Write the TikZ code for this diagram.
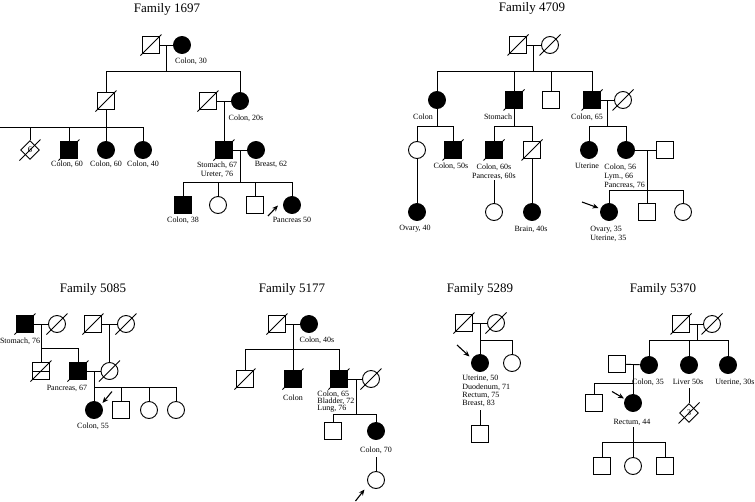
\documentclass[tikz,border=0pt]{standalone}
\usepackage{fontspec}
\setmainfont{Liberation Serif}
\usetikzlibrary{shapes.geometric,arrows.meta,calc}
\newcommand\deadmark[1]{\draw ($(#1.center)+(-10.5,10.5)$) -- ($(#1.center)+(10.5,-10.5)$);}
\begin{document}
\begin{tikzpicture}[x=1pt,y=-1pt,line width=0.9pt,
  male/.style={draw, rectangle, minimum size=16.5pt, inner sep=0pt},
  female/.style={draw, circle, minimum size=17pt, inner sep=0pt},
  aff/.style={fill=black},
  dia/.style={draw, diamond, minimum width=19pt, minimum height=19pt, inner sep=0pt},
  digit/.style={font=\fontsize{8.5}{9}\selectfont, inner sep=0pt, text=black},
  ttl/.style={font=\fontsize{13}{15}\selectfont},
  lab/.style={font=\fontsize{8}{9}\selectfont, inner sep=0pt},
  labc/.style={lab, align=center, anchor=north},
  labl/.style={lab, align=left, anchor=north west},
  arr/.style={-{Stealth[length=6pt,width=5pt]}, line width=1.1pt}]
\useasboundingbox[fill=white] (0,0) rectangle (755,501);

% ================= Family 1697
\node[ttl] (t1) at (167,9) {Family 1697};
\node[male] (a1) at (151,45) {};
\node[female,aff] (a2) at (182,45) {};
\node[lab] (la2) at (191,61) {Colon, 30};
\draw (a1) -- (a2);
\coordinate (ja1) at (166.5,45);
\coordinate (sa1) at (166.5,71);
\draw (ja1) -- (sa1);
\node[male] (a3) at (106,101) {};
\node[male] (a4) at (208,101) {};
\node[female,aff] (a5) at (240,101) {};
\node[lab] (la5) at (246,118) {Colon, 20s};
\draw (a3 |- sa1) -- (a5 |- sa1);
\draw (a3) -- (a3 |- sa1);
\draw (a5) -- (a5 |- sa1);
\draw (a4) -- (a5);
\coordinate (ja2) at (224,101);
\node[male,aff] (a6) at (224,150) {};
\draw (ja2) -- (a6);
\coordinate (sa2) at (106,127);
\coordinate (ea2) at (0,127);
\draw (a3) -- (sa2);
\node[dia] (a7) at (30,150) {};
\node[male,aff] (a8) at (69,150) {};
\node[female,aff] (a9) at (106,150) {};
\node[female,aff] (a10) at (143,150) {};
\draw (ea2) -- (a10 |- sa2);
\foreach \n in {a7,a8,a9,a10} \draw (\n) -- (\n |- sa2);
\node[lab] (la8) at (67,164) {Colon, 60};
\node[lab] (la9) at (106,164) {Colon, 60};
\node[lab] (la10) at (143,164) {Colon, 40};
\node[female,aff] (a11) at (256,150) {};
\draw (a6) -- (a11);
\node[labc] (la6) at (217,161) {Stomach, 67\\Ureter, 76};
\node[lab] (la11) at (271,164) {Breast, 62};
\coordinate (ja3) at (240,150);
\coordinate (sa3) at (240,182);
\draw (ja3) -- (sa3);
\node[male,aff] (a12) at (183,205) {};
\node[female] (a13) at (218,205) {};
\node[male] (a14) at (255,205) {};
\node[female,aff] (a15) at (292,205) {};
\draw (a12 |- sa3) -- (a15 |- sa3);
\foreach \n in {a12,a13,a14,a15} \draw (\n) -- (\n |- sa3);
\node[lab] (la12) at (183,220) {Colon, 38};
\node[lab] (la15) at (292,220) {Pancreas 50};
\coordinate (ar1a) at (268,216);
\coordinate (ar1b) at (278,205.5);
\draw[arr] (ar1a) -- (ar1b);
\foreach \n in {a1,a3,a4,a6,a7,a8} {\deadmark{\n}}
\node[digit] (n7) at (30,150) {6};

% ================= Family 4709
\node[ttl] (t2) at (532,8) {Family 4709};
\node[male] (q1) at (518,45) {};
\node[female] (q2) at (550,45) {};
\draw (q1) -- (q2);
\coordinate (jq1) at (533.5,45);
\coordinate (sq1) at (533.5,71);
\draw (jq1) -- (sq1);
\node[female,aff] (q3) at (437,100) {};
\node[male,aff] (q4) at (514,100) {};
\node[male] (q5) at (551,100) {};
\node[male,aff] (q6) at (592,100) {};
\node[female] (q7) at (623,100) {};
\draw (q3 |- sq1) -- (q6 |- sq1);
\foreach \n in {q3,q4,q5,q6} \draw (\n) -- (\n |- sq1);
\draw (q6) -- (q7);
\node[lab] (lq3) at (423,117) {Colon};
\node[lab] (lq4) at (498,117) {Stomach};
\node[lab] (lq6) at (587,117) {Colon, 65};
\coordinate (sq3) at (437,126);
\coordinate (sq4) at (514,126);
\coordinate (jq6) at (607.5,100);
\coordinate (sq6) at (607.5,126);
\draw (q3) -- (sq3);
\draw (q4) -- (sq4);
\draw (jq6) -- (sq6);
\node[female] (q8) at (417,150) {};
\node[male,aff] (q9) at (453,150) {};
\node[male,aff] (q10) at (494,150) {};
\node[male] (q11) at (532,150) {};
\node[female,aff] (q12) at (589,150) {};
\node[female,aff] (q13) at (626,150) {};
\node[male] (q14) at (665,150) {};
\draw (q8 |- sq3) -- (q9 |- sq3);
\draw (q10 |- sq4) -- (q11 |- sq4);
\draw (q12 |- sq6) -- (q13 |- sq6);
\foreach \n in {q8,q9} \draw (\n) -- (\n |- sq3);
\foreach \n in {q10,q11} \draw (\n) -- (\n |- sq4);
\foreach \n in {q12,q13} \draw (\n) -- (\n |- sq6);
\draw (q13) -- (q14);
\node[lab] (lq9) at (451,166) {Colon, 50s};
\node[labc] (lq10) at (494,163) {Colon, 60s\\Pancreas, 60s};
\node[lab] (lq12) at (587,166) {Uterine};
\node[labl] (lq13) at (604,163) {Colon, 56\\Lym., 66\\Pancreas, 76};
\coordinate (jq13) at (647,150);
\coordinate (sq13) at (647,190);
\draw (jq13) -- (sq13);
\node[female,aff] (q15) at (417,212) {};
\node[female] (q16) at (494,212) {};
\node[female,aff] (q17) at (532,212) {};
\node[female,aff] (q18) at (609,212) {};
\node[male] (q19) at (647,212) {};
\node[female] (q20) at (683,212) {};
\draw (q8) -- (q15);
\coordinate (bq10) at (494,180);
\draw (bq10) -- (q16);
\draw (q11) -- (q17);
\draw (q18 |- sq13) -- (q20 |- sq13);
\foreach \n in {q18,q19,q20} \draw (\n) -- (\n |- sq13);
\node[lab] (lq15) at (415,229) {Ovary, 40};
\node[lab] (lq17) at (531,229) {Brain, 40s};
\node[labl] (lq18) at (590,226) {Ovary, 35\\Uterine, 35};
\coordinate (ar2a) at (582,202);
\coordinate (ar2b) at (598.5,208);
\draw[arr] (ar2a) -- (ar2b);
\foreach \n in {q1,q2,q4,q6,q7,q9,q10,q11} {\deadmark{\n}}

% ================= Family 5085
\node[ttl] (t3) at (93,289) {Family 5085};
\node[male,aff] (r1) at (25,324) {};
\node[female] (r2) at (57,324) {};
\draw (r1) -- (r2);
\node[lab] (lr1) at (20,341) {Stomach, 76};
\node[male] (r3) at (93,324) {};
\node[female] (r4) at (126,324) {};
\draw (r3) -- (r4);
\coordinate (jr1) at (41,324);
\coordinate (sr1) at (41,348);
\node[male] (r5) at (41,371) {};
\node[male,aff] (r6) at (78,371) {};
\node[female] (r7) at (109.5,371) {};
\draw (jr1) -- (r5);
\draw (sr1) -- (r6 |- sr1);
\draw (r6) -- (r6 |- sr1);
\draw (r5.west) -- (r5.east);
\coordinate (jr3) at (109.5,324);
\draw (jr3) -- (r7);
\draw (r6) -- (r7);
\node[lab] (lr6) at (67,388) {Pancreas, 67};
\coordinate (jr6) at (94,371);
\coordinate (sr6) at (94,387);
\node[female,aff] (r8) at (94,410) {};
\node[male] (r9) at (121,410) {};
\node[female] (r10) at (149,410) {};
\node[female] (r11) at (176,410) {};
\draw (jr6) -- (r8);
\draw (sr6) -- (r11 |- sr6);
\foreach \n in {r9,r10,r11} \draw (\n) -- (\n |- sr6);
\node[lab] (lr8) at (93,426) {Colon, 55};
\coordinate (ar3a) at (112,391.5);
\coordinate (ar3b) at (102.5,403);
\draw[arr] (ar3a) -- (ar3b);
\foreach \n in {r1,r2,r3,r4,r5,r6,r7} {\deadmark{\n}}

% ================= Family 5177
\node[ttl] (t4) at (292,289) {Family 5177};
\node[male] (u1) at (277,324) {};
\node[female,aff] (u2) at (309,324) {};
\draw (u1) -- (u2);
\node[lab] (lu2) at (317,340) {Colon, 40s};
\coordinate (ju1) at (293,324);
\coordinate (su1) at (293,349);
\node[male] (u3) at (245,379) {};
\node[male,aff] (u4) at (293,379) {};
\node[male,aff] (u5) at (339,379) {};
\node[female] (u6) at (371,379) {};
\draw (ju1) -- (u4);
\draw (u3 |- su1) -- (u5 |- su1);
\foreach \n in {u3,u5} \draw (\n) -- (\n |- su1);
\draw (u5) -- (u6);
\node[lab] (lu4) at (293,398) {Colon};
\node[labl, font=\fontsize{8}{7}\selectfont] (lu5) at (317,390.5) {Colon, 65\\Bladder, 72\\Lung, 76};
\coordinate (ju5) at (356,379);
\coordinate (su5) at (356,414);
\draw (ju5) -- (su5);
\node[male] (u7) at (333,431) {};
\node[female,aff] (u8) at (376,431) {};
\draw (u7 |- su5) -- (u8 |- su5);
\foreach \n in {u7,u8} \draw (\n) -- (\n |- su5);
\node[lab] (lu8) at (376,450) {Colon, 70};
\node[female] (u9) at (376,480) {};
\coordinate (bu8) at (376,457);
\draw (bu8) -- (u9);
\coordinate (ar4a) at (355.5,501);
\coordinate (ar4b) at (364.5,489.5);
\draw[arr] (ar4a) -- (ar4b);
\foreach \n in {u1,u3,u4,u5,u6} {\deadmark{\n}}

% ================= Family 5289
\node[ttl] (t5) at (480,289) {Family 5289};
\node[male] (v1) at (464,323) {};
\node[female] (v2) at (496,323) {};
\draw (v1) -- (v2);
\coordinate (jv1) at (480,323);
\coordinate (sv1) at (480,340);
\node[female,aff] (v3) at (480,363) {};
\node[female] (v4) at (512,363) {};
\draw (jv1) -- (v3);
\draw (sv1) -- (v4 |- sv1);
\draw (v4) -- (v4 |- sv1);
\node[labl, font=\fontsize{8}{8.4}\selectfont] (lv3) at (462,375) {Uterine, 50\\Duodenum, 71\\Rectum, 75\\Breast, 83};
\node[male] (v5) at (480,434) {};
\coordinate (bv3) at (480,410);
\draw (bv3) -- (v5);
\coordinate (ar5a) at (457,345);
\coordinate (ar5b) at (469.5,356.5);
\draw[arr] (ar5a) -- (ar5b);
\foreach \n in {v1,v2} {\deadmark{\n}}

% ================= Family 5370
\node[ttl] (t6) at (663,289) {Family 5370};
\node[male] (w1) at (681,324) {};
\node[female] (w2) at (712,324) {};
\draw (w1) -- (w2);
\coordinate (jw1) at (697,324);
\coordinate (sw1) at (697,340);
\draw (jw1) -- (sw1);
\node[female,aff] (w3) at (649,365) {};
\node[female,aff] (w4) at (689,365) {};
\node[female,aff] (w5) at (728,365) {};
\draw (w3 |- sw1) -- (w5 |- sw1);
\foreach \n in {w3,w4,w5} \draw (\n) -- (\n |- sw1);
\node[lab] (lw3) at (648,382) {Colon, 35};
\node[lab] (lw4) at (688,382) {Liver 50s};
\node[lab] (lw5) at (735,382) {Uterine, 30s};
\node[male] (w6) at (617,364) {};
\draw (w6) -- (w3);
\coordinate (jw6) at (633,364);
\coordinate (sw6) at (633,383);
\node[female,aff] (w7) at (633,403) {};
\node[male] (w8) at (594,403) {};
\draw (jw6) -- (w7);
\draw (w8 |- sw6) -- (sw6);
\draw (w8) -- (w8 |- sw6);
\node[lab] (lw7) at (632,422) {Rectum, 44};
\coordinate (ar6a) at (612,391.5);
\coordinate (ar6b) at (624,398.5);
\draw[arr] (ar6a) -- (ar6b);
\node[dia] (w9) at (689,413) {};
\coordinate (bw4) at (689,388);
\draw (bw4) -- (w9);
\coordinate (bw7) at (633,427);
\coordinate (sw7) at (633,442);
\draw (bw7) -- (sw7);
\node[male] (w10) at (602,466) {};
\node[female] (w11) at (633,466) {};
\node[male] (w12) at (665,466) {};
\draw (w10 |- sw7) -- (w12 |- sw7);
\foreach \n in {w10,w11,w12} \draw (\n) -- (\n |- sw7);
\foreach \n in {w1,w2,w9} {\deadmark{\n}}
\node[digit] (n9) at (689,413) {3};
\end{tikzpicture}
\end{document}
